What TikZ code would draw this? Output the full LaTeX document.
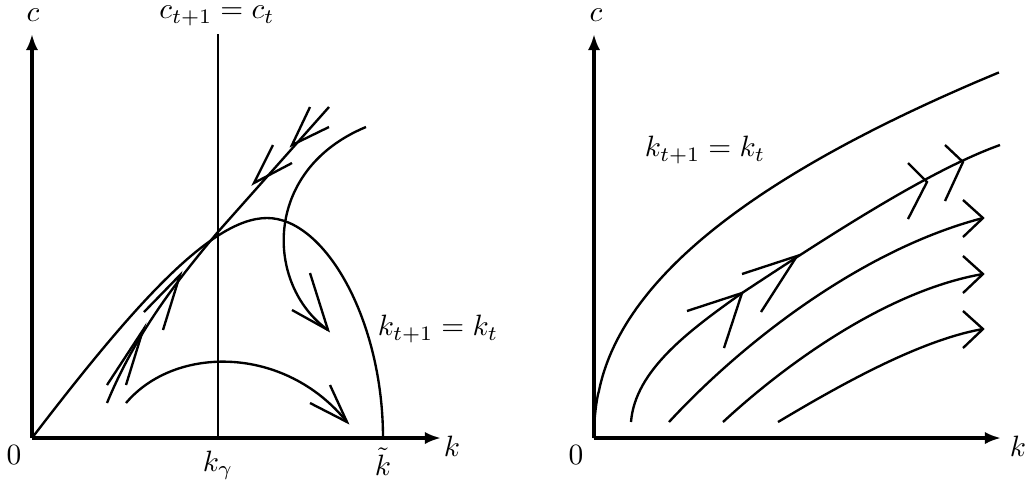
\documentclass[tikz,border=0pt]{standalone}
\usetikzlibrary{arrows.meta}
\begin{document}
\begin{tikzpicture}[x=0.34pt,y=-0.34pt,
  axis/.style={line width=1.4pt,-{Latex[length=5.5pt,width=4.2pt]}},
  curve/.style={line width=0.8pt},
  barb/.style={line width=0.8pt},
  lbl/.style={inner sep=0pt,font=\normalsize}]
\useasboundingbox (0,0) rectangle (1029,490);
% ---------- left panel ----------
\coordinate (O1) at (32,438);
\coordinate (Y1) at (32,34);
\coordinate (X1) at (441,438);
\draw[axis] (O1) -- (Y1);
\draw[axis] (O1) -- (X1);
\node[lbl] (c1) at (33,15) {$c$};
\node[lbl] (k1) at (452,446) {$k$};
\node[lbl] (z1) at (14,455) {$0$};
\node[lbl] (ccond) at (217,16) {$c_{t+1}=c_t$};
\node[lbl] (kg) at (218,465) {$k_\gamma$};
\node[lbl] (kt) at (383,462) {$\tilde{k}$};
\node[lbl] (kcond1) at (438,329) {$k_{t+1}=k_t$};
% vertical locus
\coordinate (V1) at (218,34);
\coordinate (V2) at (218,438);
\draw[curve] (V1) -- (V2);
% k_{t+1}=k_t hump
\draw[curve] (O1) .. controls (130,310) and (210,218) .. (267,218)
                  .. controls (325,218) and (383,320) .. (383,438);
% saddle path
\draw[curve] (107,403) .. controls (135,335) and (175,283) .. (217,233) -- (329,107);
% divergent path from upper right
\draw[curve] (366,127) .. controls (262,170) and (265,285) .. (328,330);
% lower arc
\draw[curve] (126,403) .. controls (175,345) and (285,345) .. (347,422);
% arrow barbs (left)
\draw[barb] (107,385) -- (143,330) -- (126,385);
\draw[barb] (144,312) -- (180,275) -- (163,330);
\draw[barb] (273,145) -- (254,183) -- (292,163);
\draw[barb] (310,107) -- (292,145) -- (329,127);
\draw[barb] (310,273) -- (328,330) -- (292,310);
\draw[barb] (330,385) -- (347,422) -- (310,403);
% ---------- right panel ----------
\coordinate (O2) at (594,438);
\coordinate (Y2) at (594,34);
\coordinate (X2) at (1001,438);
\draw[axis] (O2) -- (Y2);
\draw[axis] (O2) -- (X2);
\node[lbl] (c2) at (596,15) {$c$};
\node[lbl] (k2) at (1018,446) {$k$};
\node[lbl] (z2) at (576,455) {$0$};
\node[lbl] (kcond2) at (705,150) {$k_{t+1}=k_t$};
% concave locus
\draw[curve] (O2) -- plot[domain=0.002:1,samples=120,smooth] ({594+406*pow(\x,2.174)},{438-366*\x});
% trajectories
\draw[curve] (631,422) .. controls (635,370) and (690,330) .. (742,293)
                       .. controls (830,235) and (930,170) .. (1000,145);
\draw[curve] (669,422) .. controls (740,345) and (860,250) .. (983,218);
\draw[curve] (723,422) .. controls (790,360) and (890,290) .. (983,274);
\draw[curve] (778,422) .. controls (840,385) and (920,340) .. (983,329);
% arrow barbs (right)
\draw[barb] (687,311) -- (742,293) -- (724,348);
\draw[barb] (742,274) -- (797,256) -- (761,312);
\draw[barb] (908,163) -- (927,182) -- (908,219);
\draw[barb] (945,145) -- (963,162) -- (945,201);
\draw[barb] (963,200) -- (983,218) -- (963,237);
\draw[barb] (963,256) -- (983,274) -- (963,293);
\draw[barb] (963,311) -- (983,329) -- (963,348);
\end{tikzpicture}
\end{document}
